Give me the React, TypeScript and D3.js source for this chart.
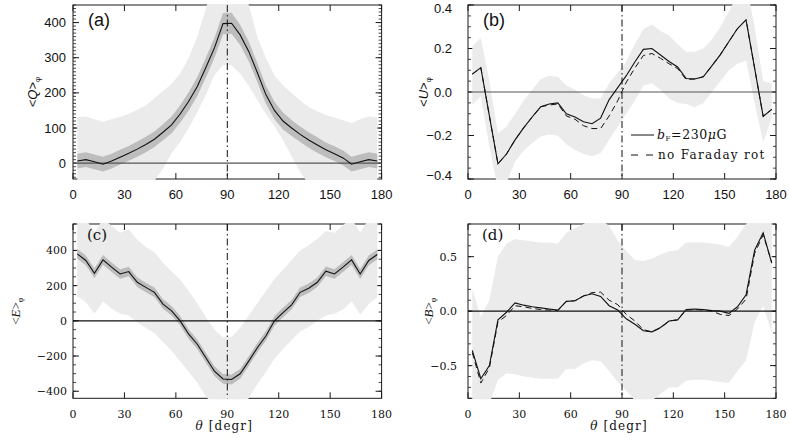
import React from 'react';
import * as d3 from 'd3';

// bin centres in degrees
const THETA = [2.5, 7.5, 12.5, 17.5, 22.5, 27.5, 32.5, 37.5, 42.5, 47.5, 52.5, 57.5, 62.5, 67.5, 72.5, 77.5, 82.5, 87.5,
  92.5, 97.5, 102.5, 107.5, 112.5, 117.5, 122.5, 127.5, 132.5, 137.5, 142.5, 147.5, 152.5, 157.5, 162.5, 167.5, 172.5, 177.5];
const X_TICKS = [0, 30, 60, 90, 120, 150, 180];

// (a) <Q>
const Q_MEAN = [6, 10, 4, -3, 6, 17, 28, 40, 53, 68, 88, 109, 140, 176, 218, 272, 328, 397,
  398, 365, 318, 258, 195, 150, 120, 100, 82, 66, 52, 38, 27, 15, -3, 4, 10, 6];
const Q_INNER = [21, 21, 21, 21, 21, 21, 21, 22, 22, 22, 23, 24, 25, 26, 27, 28, 29, 30,
  30, 29, 28, 27, 26, 25, 24, 23, 22, 22, 22, 21, 21, 21, 21, 21, 21, 21];
const Q_OUTER_HI = [131, 133, 125, 118, 125, 132, 140, 152, 165, 185, 205, 225, 255, 300, 360, 440, 520, 520,
  520, 520, 450, 360, 300, 250, 222, 200, 178, 160, 148, 137, 130, 122, 114, 125, 133, 130];
const Q_OUTER_LO = [-120, -115, -118, -125, -110, -95, -85, -75, -62, -50, -15, 28, 60, 100, 145, 195, 250, 280,
  278, 255, 220, 180, 140, 105, 65, 20, -25, -60, -75, -85, -95, -105, -120, -118, -115, -120];
const Q_TICKS = [0, 100, 200, 300, 400];

// (b) <U>
const U_MEAN = [0.082, 0.112, -0.11, -0.33, -0.285, -0.22, -0.165, -0.115, -0.068, -0.055, -0.05, -0.1, -0.115, -0.137, -0.146, -0.12, -0.035, 0.02,
  0.075, 0.138, 0.196, 0.2, 0.17, 0.14, 0.115, 0.062, 0.06, 0.07, 0.12, 0.172, 0.232, 0.292, 0.332, 0.11, -0.112, -0.08];
const U_NOFR = [0.082, 0.112, -0.11, -0.33, -0.285, -0.22, -0.165, -0.115, -0.068, -0.06, -0.055, -0.11, -0.125, -0.155, -0.168, -0.168, -0.11, -0.04,
  0.045, 0.11, 0.168, 0.177, 0.155, 0.13, 0.108, 0.057, 0.06, 0.07, 0.12, 0.172, 0.232, 0.292, 0.332, 0.11, -0.112, -0.08];
const U_OUTER_HI = [0.21, 0.25, 0.05, -0.19, -0.16, -0.1, -0.04, 0.01, 0.06, 0.075, 0.07, 0.03, 0.01, -0.015, -0.03, -0.03, 0.04, 0.09,
  0.14, 0.22, 0.29, 0.31, 0.28, 0.26, 0.22, 0.185, 0.185, 0.2, 0.24, 0.3, 0.37, 0.45, 0.5, 0.3, 0.05, 0.04];
const U_OUTER_LO = [-0.06, -0.02, -0.25, -0.45, -0.42, -0.32, -0.27, -0.235, -0.205, -0.195, -0.2, -0.24, -0.265, -0.285, -0.295, -0.28, -0.22, -0.16,
  -0.1, -0.04, 0.03, 0.04, 0.01, -0.03, -0.05, -0.055, -0.07, -0.05, 0.0, 0.05, 0.1, 0.13, 0.145, -0.05, -0.23, -0.12];
const U_TICKS = [-0.4, -0.2, 0, 0.2, 0.4];

// (c) <E>
const E_MEAN = [380, 343, 270, 346, 305, 266, 280, 219, 190, 162, 95, 57, 0, -76, -133, -210, -286, -330,
  -333, -301, -229, -153, -86, 0, 47, 91, 162, 185, 219, 282, 266, 305, 346, 266, 343, 377];
const E_INNER = [28, 28, 28, 28, 27, 27, 27, 27, 27, 27, 27, 27, 27, 27, 27, 28, 28, 28,
  28, 28, 28, 27, 27, 27, 27, 27, 27, 27, 27, 27, 27, 28, 28, 28, 28, 28];
const E_OUTER_HI = [610, 580, 500, 580, 540, 500, 520, 460, 420, 390, 330, 280, 235, 170, 100, 20, -50, -95,
  -90, -40, 30, 100, 170, 238, 290, 345, 400, 430, 465, 510, 500, 545, 580, 500, 580, 610];
const E_OUTER_LO = [140, 105, 40, 110, 70, 40, 30, -10, -40, -70, -120, -170, -230, -290, -350, -430, -480, -510,
  -510, -490, -440, -360, -290, -215, -160, -110, -60, -35, 0, 30, 40, 65, 110, 35, 95, 135];
const E_TICKS = [-400, -200, 0, 200, 400];

// (d) <B>
const B_MEAN = [-0.36, -0.62, -0.5, -0.08, -0.01, 0.075, 0.055, 0.04, 0.03, 0.02, 0.01, 0.09, 0.095, 0.14, 0.16, 0.135, 0.05, 0.01,
  -0.07, -0.12, -0.18, -0.19, -0.15, -0.09, -0.08, 0.015, 0.02, 0.015, 0.005, 0.0, -0.02, 0.04, 0.15, 0.56, 0.72, 0.44];
const B_NOFR = [-0.38, -0.66, -0.52, -0.1, -0.04, 0.05, 0.04, 0.025, 0.015, 0.01, 0.005, 0.09, 0.095, 0.14, 0.17, 0.175, 0.1, 0.06,
  -0.03, -0.09, -0.17, -0.19, -0.155, -0.09, -0.08, 0.01, 0.015, 0.01, 0.0, -0.03, -0.04, 0.02, 0.11, 0.53, 0.7, 0.45];
const B_OUTER_HI = [0.2, -0.05, 0.1, 0.5, 0.62, 0.66, 0.65, 0.64, 0.63, 0.63, 0.62, 0.72, 0.76, 0.8, 0.85, 0.85, 0.78, 0.65,
  0.55, 0.47, 0.46, 0.48, 0.52, 0.55, 0.56, 0.63, 0.63, 0.63, 0.62, 0.61, 0.59, 0.68, 0.8, 0.9, 0.95, 0.9];
const B_OUTER_LO = [-0.9, -0.9, -0.85, -0.63, -0.57, -0.58, -0.6, -0.61, -0.62, -0.62, -0.62, -0.53, -0.53, -0.48, -0.45, -0.46, -0.55, -0.65,
  -0.73, -0.82, -0.85, -0.82, -0.76, -0.7, -0.7, -0.64, -0.63, -0.63, -0.64, -0.65, -0.66, -0.55, -0.45, -0.1, 0.05, -0.2];
const B_TICKS = [-0.5, 0, 0.5];

const SANS = "'Liberation Sans', Arial, Helvetica, sans-serif";
const SERIF = "'DejaVu Serif', serif";
const LSERIF = "'Liberation Serif', 'Times New Roman', serif";

const minus = (s: string) => s.replace('-', '\u2212');

type Spec = {
  id: string; tag: string; sym: string;
  left: number; right: number; top: number; bottom: number;
  yDomain: [number, number]; yTicks: number[]; minorStep: number; fmt: (v: number) => string;
  labelEnd: number; ylabX: number; serif: boolean; zeroColor: string; xTitle: boolean;
  mean: number[]; alt?: number[]; inner?: number[]; lo: number[]; hi: number[];
};

function Panel({ p }: { p: Spec }) {
  const x = d3.scaleLinear().domain([0, 180]).range([p.left, p.right]);
  const y = d3.scaleLinear().domain(p.yDomain).range([p.bottom, p.top]);
  const tickFont = p.serif ? SERIF : SANS;
  const tickSize = p.serif ? 11 : 13;
  const capHalf = p.serif ? 4 : 4.6;
  const line = d3.line<number>().x((_, i) => x(THETA[i])).y(d => y(d));
  const band = (lo: number[], hi: number[]) =>
    d3.area<number>().x(d => x(d)).y0((_, i) => y(lo[i])).y1((_, i) => y(hi[i]))(THETA) || '';
  const step = p.minorStep;
  const minor = d3.range(Math.ceil(p.yDomain[0] / step - 1e-9), Math.floor(p.yDomain[1] / step + 1e-9) + 1).map(k => k * step);
  const innerLo = p.inner ? p.mean.map((m, i) => m - p.inner![i]) : null;
  const innerHi = p.inner ? p.mean.map((m, i) => m + p.inner![i]) : null;
  const cx = (p.left + p.right) / 2;
  const cy = (p.top + p.bottom) / 2;
  const ink = '#1a1a1a';

  return (
    <g>
      <defs>
        <clipPath id={'clip-' + p.id}>
          <rect x={p.left - 1} y={p.top - 1} width={p.right - p.left + 2} height={p.bottom - p.top + 2} />
        </clipPath>
      </defs>
      {/* frame and ticks */}
      <rect x={p.left} y={p.top} width={p.right - p.left} height={p.bottom - p.top} fill="none" stroke={ink} strokeWidth={1} />
      {minor.map(v => (
        <g key={'m' + v} stroke={ink} strokeWidth={0.8}>
          <line x1={p.left} x2={p.left + 3} y1={y(v)} y2={y(v)} />
          <line x1={p.right - 3} x2={p.right} y1={y(v)} y2={y(v)} />
        </g>
      ))}
      {p.yTicks.map(v => (
        <g key={'M' + v} stroke={ink} strokeWidth={1}>
          <line x1={p.left} x2={p.left + 6} y1={y(v)} y2={y(v)} />
          <line x1={p.right - 6} x2={p.right} y1={y(v)} y2={y(v)} />
        </g>
      ))}
      {X_TICKS.map(t => (
        <g key={'x' + t} stroke={ink} strokeWidth={1}>
          <line x1={x(t)} x2={x(t)} y1={p.bottom} y2={p.bottom - 6} />
          <line x1={x(t)} x2={x(t)} y1={p.top} y2={p.top + 6} />
        </g>
      ))}

      <g clipPath={`url(#clip-${p.id})`}>
        <path d={band(p.lo, p.hi)} fill="#ebebeb" />
        {innerLo && innerHi && <path d={band(innerLo, innerHi)} fill="#bdbdbd" />}
      </g>
      <g clipPath={`url(#clip-${p.id})`}>
        <line x1={p.left} x2={p.right} y1={y(0)} y2={y(0)} stroke={p.zeroColor} strokeWidth={1.2} />
        <line x1={x(90)} x2={x(90)} y1={p.top} y2={p.bottom} stroke="#111" strokeWidth={1} strokeDasharray="7,3,1.5,3" />
        {p.alt && <path d={line(p.alt) || ''} fill="none" stroke="#111" strokeWidth={1} strokeDasharray="6,4" />}
        <path d={line(p.mean) || ''} fill="none" stroke="#111" strokeWidth={1.1} />
      </g>

      {/* tick labels */}
      {p.yTicks.map(v => {
        const yy = Math.min(Math.max(y(v), p.top + 3.5), p.bottom - 3.5);
        return (
          <text key={'yl' + v} x={p.labelEnd} y={yy + capHalf} textAnchor="end" fontFamily={tickFont} fontSize={tickSize} fill="#111">
            {p.fmt(v)}
          </text>
        );
      })}
      {X_TICKS.map(t => (
        <text key={'xl' + t} x={x(t)} y={p.bottom + 19.5} textAnchor="middle" fontFamily={tickFont} fontSize={tickSize} fill="#111">
          {t}
        </text>
      ))}

      {/* panel tag */}
      {p.serif ? (
        <text x={p.left + 14} y={p.top + 16} fontFamily={SERIF} fontSize={15} fill="#111">{p.tag}</text>
      ) : (
        <text x={p.left + 15} y={p.top + 21} fontFamily={SANS} fontSize={18} fill="#111">{p.tag}</text>
      )}

      {/* y label */}
      <g transform={`translate(${p.ylabX},${cy}) rotate(-90)`}>
        <text x={0} y={4.5} textAnchor="middle" fontFamily={p.serif ? LSERIF : SANS} fontSize={p.serif ? 13 : 13} fill="#111">
          {'<'}<tspan fontStyle="italic">{p.sym}</tspan>{'>'}
          <tspan fontSize={8} dy={3}>{'\u03c6'}</tspan>
        </text>
      </g>

      {p.xTitle && (
        <text x={cx - 3} y={p.bottom + 32} textAnchor="middle" fontFamily={SERIF} fontSize={12} letterSpacing={1.1} fill="#111">
          <tspan fontStyle="italic">{'\u03b8'}</tspan>{' [degr]'}
        </text>
      )}
    </g>
  );
}

const PANELS: Spec[] = [
  {
    id: 'a', tag: '(a)', sym: 'Q', left: 73, right: 381.6, top: 5, bottom: 179,
    yDomain: [-45, 450], yTicks: Q_TICKS, minorStep: 10, fmt: v => minus(String(v)),
    labelEnd: 66, ylabX: 32, serif: false, zeroColor: '#555', xTitle: false,
    mean: Q_MEAN, inner: Q_INNER, lo: Q_OUTER_LO, hi: Q_OUTER_HI,
  },
  {
    id: 'b', tag: '(b)', sym: 'U', left: 468, right: 776, top: 5, bottom: 179,
    yDomain: [-0.4, 0.4], yTicks: U_TICKS, minorStep: 0.05, fmt: v => minus(v.toFixed(1)),
    labelEnd: 452, ylabX: 423, serif: false, zeroColor: '#555', xTitle: false,
    mean: U_MEAN, alt: U_NOFR, lo: U_OUTER_LO, hi: U_OUTER_HI,
  },
  {
    id: 'c', tag: '(c)', sym: 'E', left: 73, right: 381.6, top: 224, bottom: 398.3,
    yDomain: [-440, 550], yTicks: E_TICKS, minorStep: 50, fmt: v => minus(String(v)),
    labelEnd: 67, ylabX: 15, serif: true, zeroColor: '#111', xTitle: true,
    mean: E_MEAN, inner: E_INNER, lo: E_OUTER_LO, hi: E_OUTER_HI,
  },
  {
    id: 'd', tag: '(d)', sym: 'B', left: 468, right: 776, top: 224, bottom: 398.3,
    yDomain: [-0.8, 0.8], yTicks: B_TICKS, minorStep: 0.1, fmt: v => minus(v.toFixed(1)),
    labelEnd: 457, ylabX: 428, serif: true, zeroColor: '#111', xTitle: true,
    mean: B_MEAN, alt: B_NOFR, lo: B_OUTER_LO, hi: B_OUTER_HI,
  },
];

export default function App() {
  return (
    <svg width={789} height={438} viewBox="0 0 789 438"
      style={{ position: 'absolute', left: 0, top: 0, background: '#fff' }}>
      <rect x={0} y={0} width={789} height={438} fill="#fff" />
      {PANELS.map(p => <Panel key={p.id} p={p} />)}

      {/* legend in (b) */}
      <line x1={631} x2={654} y1={135} y2={135} stroke="#111" strokeWidth={1} />
      <text x={657} y={139} fontFamily={SERIF} fontSize={12.5} letterSpacing={0.6} fill="#111">
        <tspan fontStyle="italic">b</tspan>
        <tspan fontSize={7} dy={2}>F</tspan>
        <tspan dy={-2}>=230</tspan>
        <tspan fontStyle="italic">{'\u03bc'}</tspan>G
      </text>
      <line x1={631} x2={654} y1={155} y2={155} stroke="#111" strokeWidth={1} strokeDasharray="7,8" />
      <text x={658} y={159} fontFamily={SERIF} fontSize={12} letterSpacing={1.3} fill="#111">no Faraday rot</text>
    </svg>
  );
}
